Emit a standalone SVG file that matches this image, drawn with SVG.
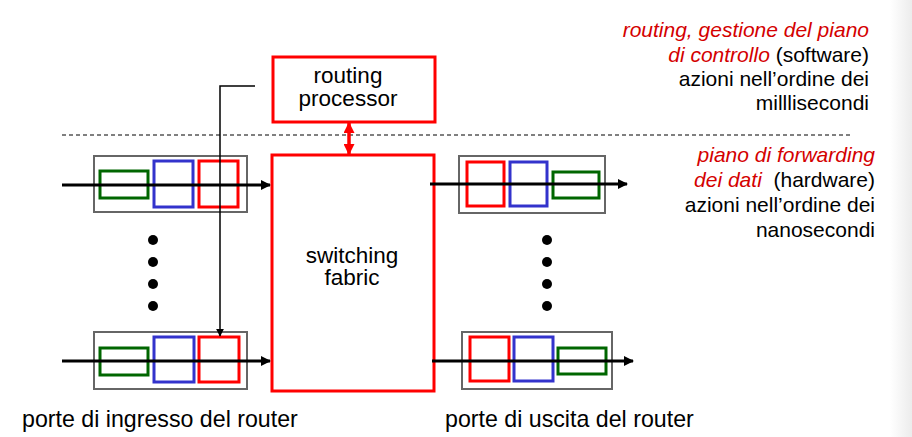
<svg xmlns="http://www.w3.org/2000/svg" width="912" height="437" viewBox="0 0 912 437">
<style>
text{font-family:"Liberation Sans",Arial,sans-serif;fill:#000}
.lbl{font-size:22.5px}
.cap{font-size:23.2px}
.note{font-size:21px;text-anchor:end;white-space:pre}
.red{fill:#d40000;font-style:italic}
.port{fill:none;stroke:#666;stroke-width:2}
.g{fill:none;stroke:#006600;stroke-width:3}
.b{fill:none;stroke:#3333cc;stroke-width:3}
.r{fill:none;stroke:#ff0000;stroke-width:3}
.big{fill:#fff;stroke:#ff0000;stroke-width:3}
.flow{stroke:#000;stroke-width:3;fill:none;marker-end:url(#ah)}
</style>
<defs>
<marker id="ah" viewBox="0 0 10 10" refX="9" refY="5" markerWidth="11" markerHeight="10" orient="auto" markerUnits="userSpaceOnUse"><path d="M0,0L10,5L0,10z" fill="#000"/></marker>
<marker id="ah2" viewBox="0 0 10 10" refX="9" refY="5" markerWidth="8" markerHeight="8" orient="auto" markerUnits="userSpaceOnUse"><path d="M0,0L10,5L0,10z" fill="#000"/></marker>
<marker id="rh" viewBox="0 0 10 10" refX="9" refY="5" markerWidth="11" markerHeight="11" orient="auto-start-reverse" markerUnits="userSpaceOnUse"><path d="M0,0L10,5L0,10z" fill="#ff0000"/></marker>
<linearGradient id="edge" x1="0" x2="1" y1="0" y2="0"><stop offset="0" stop-color="#fff"/><stop offset="1" stop-color="#ececec"/></linearGradient>
</defs>
<rect width="912" height="437" fill="#fff"/>
<rect x="890" y="0" width="22" height="437" fill="url(#edge)"/>

<line x1="62" y1="135" x2="853" y2="135" stroke="#000" stroke-width="1" stroke-dasharray="4,3"/>

<g id="routing-processor">
<rect class="big" x="273" y="57" width="162" height="65"/>
<text class="lbl" x="348" y="83" text-anchor="middle">routing</text>
<text class="lbl" x="348" y="106" text-anchor="middle">processor</text>
</g>

<g id="switching-fabric">
<rect class="big" x="272" y="155" width="162" height="236"/>
<text class="lbl" x="352" y="263" text-anchor="middle">switching</text>
<text class="lbl" x="352" y="285" text-anchor="middle">fabric</text>
</g>

<g id="input-port-1">
<rect class="port" x="94" y="156" width="153" height="56"/>
<rect class="g" x="100" y="171" width="48" height="27"/>
<rect class="b" x="154" y="161" width="39" height="46"/>
<rect class="r" x="199" y="161" width="39" height="46"/>
</g>

<g id="input-port-2">
<rect class="port" x="94" y="332" width="153" height="57"/>
<rect class="g" x="100" y="348" width="48" height="27"/>
<rect class="b" x="154" y="337" width="40" height="45"/>
<rect class="r" x="199" y="337" width="40" height="45"/>
</g>

<g id="output-port-1">
<rect class="port" x="459" y="156" width="146" height="57"/>
<rect class="r" x="467" y="162" width="37" height="44"/>
<rect class="b" x="510" y="162" width="37" height="44"/>
<rect class="g" x="553" y="172" width="46" height="26"/>
</g>

<g id="output-port-2">
<rect class="port" x="462" y="332" width="150" height="57"/>
<rect class="r" x="470" y="337" width="39" height="44"/>
<rect class="b" x="514" y="337" width="39" height="44"/>
<rect class="g" x="558" y="348" width="48" height="26"/>
</g>

<g id="dots-left" fill="#000">
<circle cx="153" cy="240" r="5"/><circle cx="153" cy="262" r="5"/><circle cx="153" cy="284" r="5"/><circle cx="153" cy="306" r="5"/>
</g>
<g id="dots-right" fill="#000">
<circle cx="547" cy="240" r="5"/><circle cx="547" cy="262" r="5"/><circle cx="547" cy="284" r="5"/><circle cx="547" cy="306" r="5"/>
</g>

<g id="connectors">
<line class="flow" x1="62" y1="185" x2="270" y2="185"/>
<line class="flow" x1="62" y1="361" x2="270" y2="361"/>
<line class="flow" x1="430" y1="184" x2="627" y2="184"/>
<line class="flow" x1="432" y1="361" x2="633" y2="361"/>
<path d="M255,86H220V336" fill="none" stroke="#000" stroke-width="1.5" marker-end="url(#ah2)"/>
<line x1="349" y1="123" x2="349" y2="154" stroke="#ff0000" stroke-width="3.5" marker-start="url(#rh)" marker-end="url(#rh)"/>
</g>

<g id="labels">
<text class="cap" x="22" y="427">porte di ingresso del router</text>
<text class="cap" x="445" y="427">porte di uscita del router</text>
<text class="note" x="869" y="37"><tspan class="red">routing, gestione del piano</tspan></text>
<text class="note" x="869" y="62"><tspan class="red">di controllo</tspan> (software)</text>
<text class="note" x="869" y="86">azioni nell’ordine dei</text>
<text class="note" x="869" y="110">milllisecondi</text>
<text class="note" x="875" y="162"><tspan class="red">piano di forwarding</tspan></text>
<text class="note" x="875" y="187"><tspan class="red">dei dati</tspan>  (hardware)</text>
<text class="note" x="875" y="212">azioni nell’ordine dei</text>
<text class="note" x="875" y="237">nanosecondi</text>
</g>
</svg>
